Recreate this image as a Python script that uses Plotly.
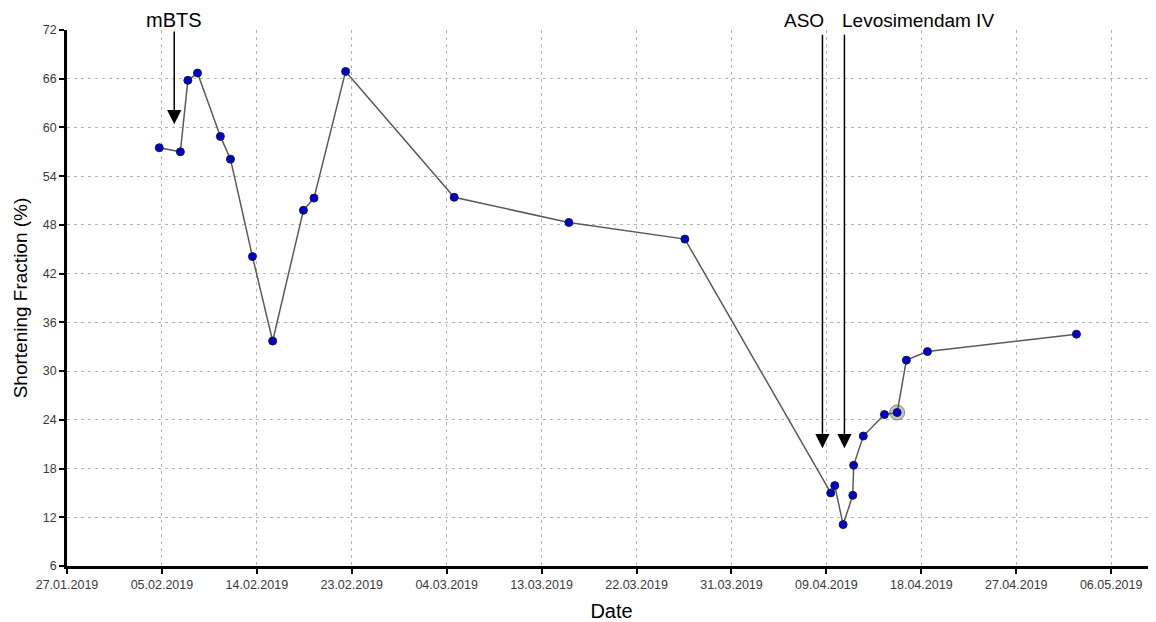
import plotly.graph_objects as go

dates = [
    "2019-02-04 18:00", "2019-02-06 18:00", "2019-02-07 11:00", "2019-02-08 09:00",
    "2019-02-10 13:00", "2019-02-11 12:00", "2019-02-13 14:00", "2019-02-15 12:00",
    "2019-02-18 10:00", "2019-02-19 10:00", "2019-02-22 10:00", "2019-03-04 17:00",
    "2019-03-15 14:00", "2019-03-26 14:00", "2019-04-09 10:00", "2019-04-09 19:00",
    "2019-04-10 14:00", "2019-04-11 12:00", "2019-04-11 14:00", "2019-04-12 12:00",
    "2019-04-14 12:00", "2019-04-15 17:00", "2019-04-16 14:00", "2019-04-18 14:00",
    "2019-05-02 17:00",
]
sf_values = [
    57.5, 57.0, 65.8, 66.7, 58.9, 56.1, 44.1, 33.7, 49.8, 51.3, 66.9, 51.4,
    48.3, 46.25, 15.0, 15.9, 11.1, 14.7, 18.4, 22.0, 24.65, 24.9, 31.35, 32.4,
    34.55,
]
highlight_index = 21

tick_dates = ["2019-01-27", "2019-02-05", "2019-02-14", "2019-02-23", "2019-03-04",
              "2019-03-13", "2019-03-22", "2019-03-31", "2019-04-09", "2019-04-18",
              "2019-04-27", "2019-05-06"]
tick_labels = ["27.01.2019", "05.02.2019", "14.02.2019", "23.02.2019", "04.03.2019",
               "13.03.2019", "22.03.2019", "31.03.2019", "09.04.2019", "18.04.2019",
               "27.04.2019", "06.05.2019"]
y_ticks = [6, 12, 18, 24, 30, 36, 42, 48, 54, 60, 66, 72]

events = ["mBTS", "ASO", "Levosimendam IV"]
event_dates = ["2019-02-06 04:00", "2019-04-08 15:00", "2019-04-10 17:00"]
event_tips = [60.4, 20.5, 20.5]
event_tops = [72.0, 71.6, 71.6]

FONT = "Liberation Sans, Arial"

fig = go.Figure()
fig.add_trace(go.Scatter(
    x=[dates[highlight_index]], y=[sf_values[highlight_index]], mode="markers",
    marker=dict(size=15, color="rgba(150,150,150,0.55)",
                line=dict(color="rgba(110,110,110,0.8)", width=1)),
    hoverinfo="skip", showlegend=False))
fig.add_trace(go.Scatter(
    x=dates, y=sf_values, mode="lines+markers",
    line=dict(color="#5a5a5a", width=1.5),
    marker=dict(size=8, color="#0000cc", line=dict(color="#1a1a40", width=1)),
    showlegend=False))

for name, d, tip, top in zip(events, event_dates, event_tips, event_tops):
    fig.add_annotation(x=d, y=tip, ax=d, ay=top, xref="x", yref="y",
                       axref="x", ayref="y", text="", showarrow=True,
                       arrowhead=2, arrowsize=1.9, arrowwidth=1.5,
                       arrowcolor="black")

fig.add_annotation(x=event_dates[0], y=1.0, xref="x", yref="paper", yshift=10,
                   yanchor="middle", text=events[0], showarrow=False,
                   font=dict(family=FONT, size=20, color="black"))
fig.add_annotation(x=event_dates[1], y=1.0, xref="x", yref="paper", yshift=10,
                   yanchor="middle", xanchor="right", xshift=4,
                   text=events[1], showarrow=False,
                   font=dict(family=FONT, size=19, color="black"))
fig.add_annotation(x=event_dates[2], y=1.0, xref="x", yref="paper", yshift=10,
                   yanchor="middle", xanchor="left", xshift=-4,
                   text=events[2], showarrow=False,
                   font=dict(family=FONT, size=19, color="black"))

grid_style = dict(showgrid=True, gridcolor="#b4b4b4", gridwidth=1, griddash="3px,4px")
fig.update_xaxes(
    type="date", range=["2019-01-27", "2019-05-10 06:00"],
    tickvals=tick_dates, ticktext=tick_labels, automargin=False,
    ticks="outside", ticklen=5, tickwidth=1.5, tickcolor="black",
    showline=True, linecolor="black", linewidth=2.5, zeroline=False,
    tickfont=dict(family=FONT, size=12.5, color="#3a3a3a"),
    title=dict(text="Date", font=dict(family=FONT, size=20, color="black"),
               standoff=15),
    **grid_style)
fig.update_yaxes(
    range=[6, 72], tickvals=y_ticks, automargin=False,
    ticks="outside", ticklen=5, tickwidth=1.5, tickcolor="black",
    showline=True, linecolor="black", linewidth=2.5, zeroline=False,
    tickfont=dict(family=FONT, size=12.5, color="#3a3a3a"),
    title=dict(text="Shortening Fraction (%)",
               font=dict(family=FONT, size=19, color="black"),
               standoff=11),
    **grid_style)
# page body has an 8px default margin; compensate so the plot area lands
# at the reference position in the screenshot
fig.update_layout(
    width=1148, height=614, autosize=False,
    margin=dict(l=59, r=0, t=22, b=56),
    plot_bgcolor="white", paper_bgcolor="white",
)
fig.write_html("out.html")
